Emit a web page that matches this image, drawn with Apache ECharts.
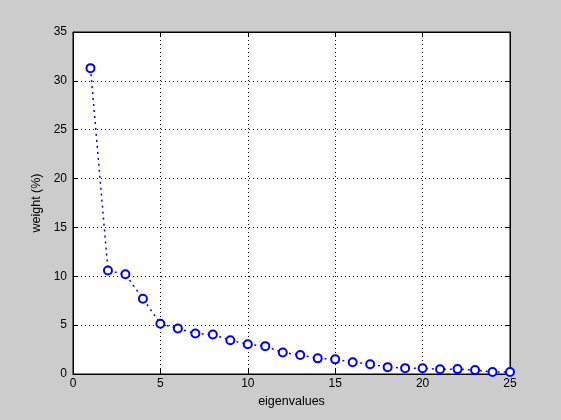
<!DOCTYPE html>
<html><head><meta charset="utf-8">
<script src="https://cdn.jsdelivr.net/npm/echarts@6/dist/echarts.min.js"></script>
<style>html,body{margin:0;padding:0;background:#cccccc}#c{width:561px;height:420px}</style>
</head><body><div id="c"></div>
<script>
const eigenIndex = [1,2,3,4,5,6,7,8,9,10,11,12,13,14,15,16,17,18,19,20,21,22,23,24,25];
const weights = [31.3,10.6,10.2,7.7,5.15,4.65,4.15,4.05,3.45,3.05,2.85,2.2,1.95,1.6,1.5,1.2,1.0,0.7,0.6,0.58,0.48,0.5,0.4,0.2,0.2];
const xTicks = [0,5,10,15,20,25];
const yTicks = [0,5,10,15,20,25,30,35];

const chart = echarts.init(document.getElementById('c'), null, {renderer:'canvas'});
const font = 'Liberation Sans, Arial, Helvetica, sans-serif';
const axisCommon = {
  axisLine:{show:true,onZero:false,lineStyle:{color:'#000',width:1}},
  axisTick:{show:true,inside:true,length:5,lineStyle:{color:'#000'}},
  splitLine:{show:false}
};
chart.setOption({
  backgroundColor:'#cccccc',
  animation:false,
  grid:{left:73,right:51,top:32,bottom:46,show:true,backgroundColor:'#ffffff',borderColor:'#000',borderWidth:1},
  xAxis:[
    Object.assign({type:'value',min:xTicks[0],max:xTicks[xTicks.length-1],interval:5,position:'bottom',
      name:'eigenvalues',nameLocation:'middle',nameGap:18,
      nameTextStyle:{color:'#000',fontSize:12.5,fontFamily:font},
      axisLabel:{color:'#000',fontSize:12,fontFamily:font,margin:4},
      splitLine:{show:true,lineStyle:{color:'#000',type:[1,3],width:1}}},
      {axisLine:axisCommon.axisLine,axisTick:axisCommon.axisTick}),
    Object.assign({type:'value',min:0,max:25,interval:5,position:'top',axisLabel:{show:false}},axisCommon)
  ],
  yAxis:[
    Object.assign({type:'value',min:yTicks[0],max:yTicks[yTicks.length-1],interval:5,position:'left',
      name:'weight (%)',nameLocation:'middle',nameGap:28,
      nameTextStyle:{color:'#000',fontSize:12.5,fontFamily:font},
      axisLabel:{color:'#000',fontSize:12,fontFamily:font,margin:6},
      splitLine:{show:true,lineStyle:{color:'#000',type:[1,3],width:1}}},
      {axisLine:axisCommon.axisLine,axisTick:axisCommon.axisTick}),
    Object.assign({type:'value',min:0,max:35,interval:5,position:'right',axisLabel:{show:false}},axisCommon)
  ],
  series:[{
    type:'line',
    xAxisIndex:0,yAxisIndex:0,
    data:eigenIndex.map((x,i)=>[x,weights[i]]),
    symbol:'circle',symbolSize:8,
    showAllSymbol:true,
    itemStyle:{color:'#ffffff',borderColor:'#0000ff',borderWidth:2},
    lineStyle:{color:'#0000ff',width:1.5,type:[2,4]},
    clip:false
  }]
});
</script></body></html>
